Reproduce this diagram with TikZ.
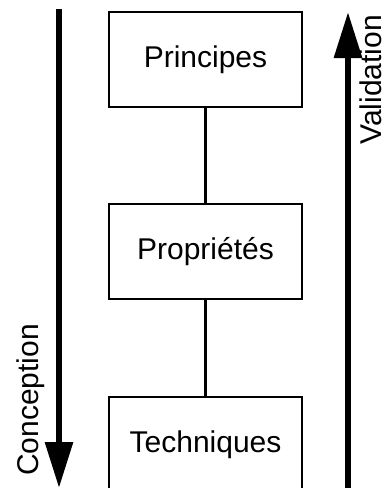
\documentclass[tikz,border=0pt]{standalone}
\usepackage{fontspec}
\setmainfont{Liberation Sans}
\usetikzlibrary{arrows.meta}
\tikzset{
  levelbox/.style={draw=black, line width=2pt, minimum width=193pt, minimum height=95pt, inner sep=0pt, font=\fontsize{30}{36}\selectfont},
  link/.style={line width=2.5pt},
  bigarrow/.style={line width=6pt, -{Triangle[length=46pt,width=27pt]}},
  sidelabel/.style={rotate=90, anchor=base, inner sep=0pt, font=\fontsize{30}{36}\selectfont}
}
\begin{document}
\begin{tikzpicture}[x=1pt,y=-1pt]
\useasboundingbox (0,0) rectangle (387,488);
\node[levelbox] (pri) at (205.5,59.5) {Principes};
\node[levelbox] (pro) at (205.5,251.5) {Propriétés};
\node[levelbox] (tec) at (205.5,444.5) {Techniques};
\draw[link] (pri.south) -- (pro.north);
\draw[link] (pro.south) -- (tec.north);
\coordinate (ctop) at (59,9);
\coordinate (cbot) at (59,488);
\coordinate (vbot) at (348,490);
\coordinate (vtop) at (348,12);
\draw[bigarrow] (ctop) -- (cbot);
\draw[bigarrow] (vbot) -- (vtop);
\node[sidelabel] (conc) at (38,400) {Conception};
\node[sidelabel] (vali) at (381,80) {Validation};
\end{tikzpicture}
\end{document}
